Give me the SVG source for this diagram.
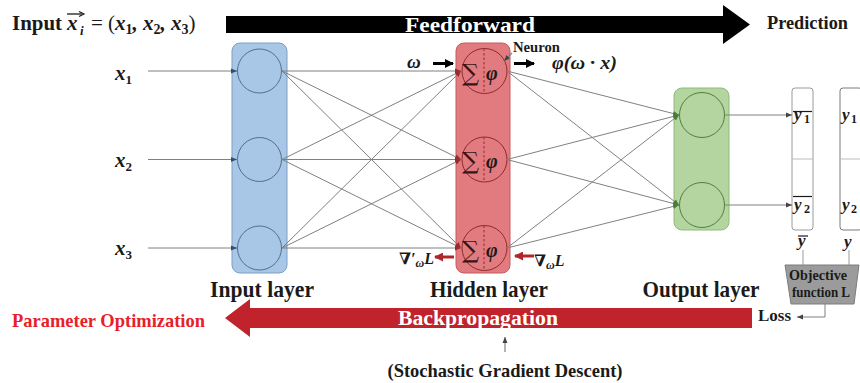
<svg xmlns="http://www.w3.org/2000/svg" width="860" height="383" viewBox="0 0 860 383">
<defs>
<style>
.t{font-family:"Liberation Serif","Times New Roman",serif;font-weight:bold;fill:#1a1a1a}
.m{font-family:"Liberation Serif","DejaVu Serif",serif;font-weight:bold;font-style:italic;fill:#1a1a1a}
.up{font-style:normal}
.link{stroke:#808080;stroke-width:1;fill:none}
.lay{font-size:23px}
</style>
<marker id="hBlue" markerWidth="7" markerHeight="6" refX="6" refY="3" orient="auto" markerUnits="userSpaceOnUse"><path d="M0,0.5 L6,3 L0,5.5 Z" fill="#2f4f78"/></marker>
<marker id="hRed" markerWidth="7" markerHeight="6" refX="6" refY="3" orient="auto" markerUnits="userSpaceOnUse"><path d="M0,0.5 L6,3 L0,5.5 Z" fill="#9c2a2e"/></marker>
<marker id="hGreen" markerWidth="7" markerHeight="6" refX="6" refY="3" orient="auto" markerUnits="userSpaceOnUse"><path d="M0,0.5 L6,3 L0,5.5 Z" fill="#4a7f38"/></marker>
<marker id="hGray" markerWidth="7" markerHeight="6" refX="6" refY="3" orient="auto" markerUnits="userSpaceOnUse"><path d="M0,0.5 L6,3 L0,5.5 Z" fill="#444"/></marker>
<marker id="hBold" markerWidth="9" markerHeight="9" refX="8" refY="4.5" orient="auto" markerUnits="userSpaceOnUse"><path d="M0,0 L9,4.5 L0,9 Z" fill="#000"/></marker>
<marker id="hBoldRed" markerWidth="9" markerHeight="9" refX="8" refY="4.5" orient="auto" markerUnits="userSpaceOnUse"><path d="M0,0 L9,4.5 L0,9 Z" fill="#b0262b"/></marker>
</defs>
<rect width="860" height="383" fill="#fff"/>

<!-- header formula -->
<g id="input-formula">
<text class="t" x="12" y="30" font-size="22" textLength="50" lengthAdjust="spacingAndGlyphs">Input</text>
<text class="m" x="67" y="30" font-size="21">x</text>
<line x1="67" y1="14" x2="82" y2="14" stroke="#1a1a1a" stroke-width="1.3"/>
<path d="M79,11.5 L84,14 L79,16.5" fill="none" stroke="#1a1a1a" stroke-width="1.2"/>
<text class="m" x="80" y="35" font-size="13">i</text>
<text class="m" x="91" y="30" font-size="21"><tspan class="up" font-weight="normal">= (</tspan>x<tspan font-size="14" class="up" dy="4">1</tspan><tspan dy="-4">, x</tspan><tspan font-size="14" class="up" dy="4">2</tspan><tspan dy="-4">, x</tspan><tspan font-size="14" class="up" dy="4">3</tspan><tspan class="up" font-weight="normal" dy="-4">)</tspan></text>
</g>

<!-- feedforward arrow -->
<g id="feedforward">
<path d="M226,16 H723 V5 L750,24.5 L723,44 V33 H226 Z" fill="#000"/>
<text class="t" x="470" y="31.5" font-size="21" text-anchor="middle" style="fill:#fff" textLength="130" lengthAdjust="spacingAndGlyphs">Feedforward</text>
</g>
<text id="prediction" class="t" x="767" y="29" font-size="19" textLength="81" lengthAdjust="spacingAndGlyphs">Prediction</text>

<!-- layers -->
<g id="input-layer">
<rect x="232" y="43" width="55" height="230" rx="8" fill="#a8c7e6" stroke="#7d9fc6" stroke-width="1"/>
<circle cx="259.5" cy="71" r="22" fill="none" stroke="#4d6f93" stroke-width="1"/>
<circle cx="259.5" cy="159.5" r="22" fill="none" stroke="#4d6f93" stroke-width="1"/>
<circle cx="259.5" cy="248" r="22" fill="none" stroke="#4d6f93" stroke-width="1"/>
<text class="t lay" x="262" y="297" text-anchor="middle" textLength="104" lengthAdjust="spacingAndGlyphs">Input layer</text>
</g>

<g id="hidden-layer">
<rect x="456" y="43" width="54" height="230" rx="8" fill="#e27b7f" stroke="#c45a5e" stroke-width="1"/>
<g stroke="#8e2a2e" stroke-width="1" fill="none">
<circle cx="484.5" cy="71" r="22.5"/>
<circle cx="484.5" cy="159.5" r="22.5"/>
<circle cx="484.5" cy="248" r="22.5"/>
<g stroke-dasharray="2.5,2">
<line x1="484" y1="48.5" x2="484" y2="93.5"/>
<line x1="484" y1="137" x2="484" y2="182"/>
<line x1="484" y1="225.5" x2="484" y2="270.5"/>
</g>
</g>
<g font-family="DejaVu Serif,Liberation Serif,serif" font-size="24" fill="#3a1518">
<text x="462" y="81">∑</text>
<text x="462" y="169">∑</text>
<text x="462" y="258">∑</text>
</g>
<g class="m" font-size="20">
<text x="486" y="80">φ</text>
<text x="486" y="168">φ</text>
<text x="486" y="257">φ</text>
</g>
<text class="t lay" x="489" y="297" text-anchor="middle" textLength="118" lengthAdjust="spacingAndGlyphs">Hidden layer</text>
</g>

<g id="output-layer">
<rect x="674" y="88" width="55" height="142" rx="8" fill="#b4d59f" stroke="#8fba7a" stroke-width="1"/>
<circle cx="702" cy="115" r="22.5" fill="none" stroke="#4f7f3c" stroke-width="1"/>
<circle cx="702" cy="205" r="22.5" fill="none" stroke="#4f7f3c" stroke-width="1"/>
<text class="t lay" x="701" y="297" text-anchor="middle" textLength="117" lengthAdjust="spacingAndGlyphs">Output layer</text>
</g>

<!-- predicted vector -->
<g id="y-hat">
<rect x="792" y="88" width="21" height="142" rx="3" fill="#fff" stroke="#9a9a9a" stroke-width="1"/>
<line x1="792" y1="159" x2="813" y2="159" stroke="#bbb" stroke-width="1"/>
<text class="m" x="794" y="120" font-size="17">y</text><text class="t" x="804" y="123" font-size="12">1</text>
<line x1="793" y1="111.5" x2="812" y2="111.5" stroke="#1a1a1a" stroke-width="1.2"/>
<text class="m" x="794" y="210" font-size="17">y</text><text class="t" x="804" y="213" font-size="12">2</text>
<line x1="793" y1="196.5" x2="812" y2="196.5" stroke="#1a1a1a" stroke-width="1.2"/>
<text class="m" x="798" y="246" font-size="17">y</text>
<line x1="798" y1="236" x2="808" y2="236" stroke="#1a1a1a" stroke-width="1.2"/>
</g>

<!-- target vector -->
<g id="y-true">
<rect x="840" y="88" width="22" height="142" rx="3" fill="#fff" stroke="#7a7a7a" stroke-width="1"/>
<line x1="840" y1="159" x2="862" y2="159" stroke="#bbb" stroke-width="1"/>
<text class="m" x="842" y="120" font-size="17">y</text><text class="t" x="851" y="123" font-size="12">1</text>
<text class="m" x="842" y="210" font-size="17">y</text><text class="t" x="851" y="213" font-size="12">2</text>
<text class="m" x="844" y="247" font-size="17">y</text>
</g>

<g id="objective">
<path d="M785,265 H859 L854,304 H791 Z" fill="#9b9b9b" stroke="#7d7d7d" stroke-width="1"/>
<text class="t" x="818" y="280" font-size="15" text-anchor="middle" textLength="58" lengthAdjust="spacingAndGlyphs">Objective</text>
<text class="t" x="821" y="297" font-size="15" text-anchor="middle" textLength="58" lengthAdjust="spacingAndGlyphs">function L</text>
</g>
<text id="loss" class="t" x="758" y="321" font-size="16" textLength="33" lengthAdjust="spacingAndGlyphs">Loss</text>

<!-- input labels -->
<g id="inputs" class="m" font-size="21">
<text x="115" y="80">x<tspan class="up" font-size="13" dy="4">1</tspan></text>
<text x="115" y="167">x<tspan class="up" font-size="13" dy="4">2</tspan></text>
<text x="115" y="255">x<tspan class="up" font-size="13" dy="4">3</tspan></text>
</g>

<!-- neuron annotation -->
<g id="neuron-notes">
<text class="t" x="513" y="52" font-size="14" textLength="47" lengthAdjust="spacingAndGlyphs">Neuron</text>
<text class="m" x="407" y="68" font-size="19">ω</text>
<text class="m" x="552" y="69" font-size="19" textLength="65" lengthAdjust="spacingAndGlyphs">φ(ω · x)</text>
<text class="m" x="399" y="264" font-size="16">∇′<tspan font-size="12" dy="3">ω</tspan><tspan dy="-3">L</tspan></text>
<text class="m" x="534" y="266" font-size="16">∇<tspan font-size="12" dy="3">ω</tspan><tspan dy="-3">L</tspan></text>
</g>

<!-- backpropagation arrow -->
<g id="backprop">
<path d="M752,308 H250 V299 L225,318 L250,337 V328 H752 Z" fill="#c0232b"/>
<text class="t" x="478" y="324.5" font-size="20" text-anchor="middle" style="fill:#fff" textLength="160" lengthAdjust="spacingAndGlyphs">Backpropagation</text>
</g>
<text id="param-opt" class="t" x="12" y="327" font-size="19" style="fill:#e8202a" textLength="193" lengthAdjust="spacingAndGlyphs">Parameter Optimization</text>
<text id="sgd" class="t" x="505" y="377" font-size="19" text-anchor="middle" textLength="235" lengthAdjust="spacingAndGlyphs">(Stochastic Gradient Descent)</text>

<!-- connectors -->
<g id="connectors">
<g class="link" marker-end="url(#hBlue)">
<line x1="148" y1="71" x2="237" y2="71"/>
<line x1="148" y1="159.5" x2="237" y2="159.5"/>
<line x1="148" y1="248" x2="237" y2="248"/>
</g>
<g class="link" marker-end="url(#hRed)">
<line x1="282" y1="71" x2="461" y2="71"/>
<line x1="282" y1="71" x2="461" y2="159.5"/>
<line x1="282" y1="71" x2="461" y2="248"/>
<line x1="282" y1="159.5" x2="461" y2="71"/>
<line x1="282" y1="159.5" x2="461" y2="159.5"/>
<line x1="282" y1="159.5" x2="461" y2="248"/>
<line x1="282" y1="248" x2="461" y2="71"/>
<line x1="282" y1="248" x2="461" y2="159.5"/>
<line x1="282" y1="248" x2="461" y2="248"/>
</g>
<g class="link" marker-end="url(#hGreen)">
<line x1="507" y1="71" x2="679" y2="115"/>
<line x1="507" y1="71" x2="679" y2="205"/>
<line x1="507" y1="159.5" x2="679" y2="115"/>
<line x1="507" y1="159.5" x2="679" y2="205"/>
<line x1="507" y1="248" x2="679" y2="115"/>
<line x1="507" y1="248" x2="679" y2="205"/>
</g>
<g class="link" marker-end="url(#hGray)" stroke="#555">
<line x1="724.5" y1="115" x2="792" y2="115"/>
<line x1="724.5" y1="205" x2="792" y2="205"/>
<path d="M825,304 V317 H797"/>
<line x1="512" y1="53" x2="504" y2="61" stroke-width="1.2"/>
<line x1="505" y1="352" x2="505" y2="337" stroke-width="1.2"/>
</g>
<g stroke="#9a9a9a" stroke-width="1">
<line x1="803" y1="250" x2="803" y2="265"/>
<line x1="849" y1="250" x2="849" y2="265"/>
</g>
<g stroke="#000" stroke-width="3" marker-end="url(#hBold)">
<line x1="433" y1="63.5" x2="453" y2="63.5"/>
<line x1="514" y1="63.5" x2="534" y2="63.5"/>
</g>
<g stroke="#b0262b" stroke-width="3" marker-end="url(#hBoldRed)">
<line x1="454" y1="257" x2="435" y2="257"/>
<line x1="534" y1="256" x2="515" y2="256"/>
</g>
</g>
</svg>
